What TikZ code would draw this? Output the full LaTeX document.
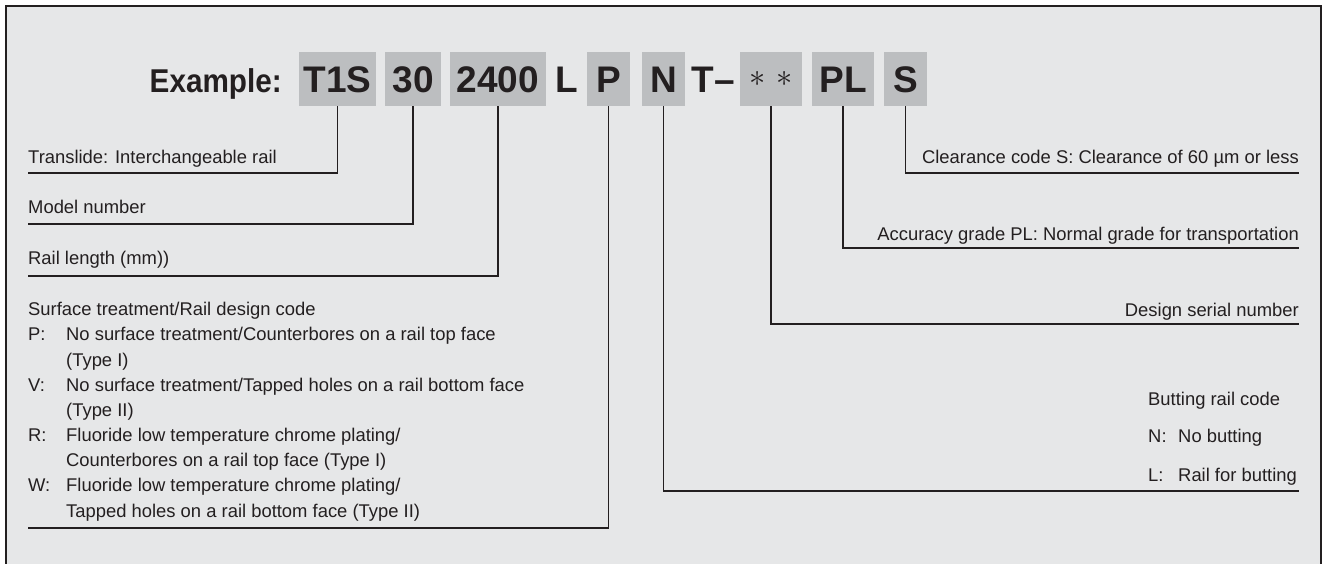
\documentclass[tikz,border=0pt]{standalone}
\usepackage{fontspec}
\setmainfont{Liberation Sans}
\newfontfamily\exfont[FakeStretch=0.9]{Liberation Sans}
\definecolor{bg}{HTML}{E6E7E8}
\definecolor{boxgray}{HTML}{BCBEC0}
\definecolor{ink}{HTML}{231F20}
\tikzset{
  lbl/.style={anchor=base west, inner sep=0pt, text=ink, font=\fontsize{18.4}{22}\selectfont},
  rlbl/.style={anchor=base east, inner sep=0pt, text=ink, font=\fontsize{18.4}{22}\selectfont},
  codebox/.style={fill=boxgray, inner sep=0pt, minimum height=54pt, text height=26.5pt, text depth=0pt, text=ink, font=\fontsize{37}{40}\selectfont\bfseries},
  codetext/.style={inner sep=0pt, text height=26.5pt, text depth=0pt, text=ink, font=\fontsize{37}{40}\selectfont\bfseries},
  conn/.style={draw=ink, line width=1.3pt},
  frame/.style={draw=ink, line width=1.7pt, fill=bg}
}
\begin{document}
\begin{tikzpicture}[x=1pt,y=-1pt]
\useasboundingbox (0,0) rectangle (1324,563);
\fill[white] (0,0) rectangle (1324,563);
\draw[frame] (6,6) rectangle (1321,620);

% title row
\node[anchor=base east, inner sep=0pt, text=ink, font=\fontsize{33}{36}\selectfont\exfont\bfseries] (ex) at (282,92) {Example:};
\node[codebox, minimum width=77pt] (t1s) at (337.5,79) {T1S};
\node[codebox, minimum width=56pt] (m30) at (413,79) {30};
\node[codebox, minimum width=96pt] (len) at (498,79) {2400};
\node[codetext] (lt) at (566.5,79) {L};
\node[codebox, minimum width=43pt] (pc) at (608.5,79) {P};
\node[codebox, minimum width=43pt] (nc) at (663.5,79) {N};
\node[codetext] (tdash) at (713,79) {T--};
\node[codebox, minimum width=62pt] (ast) at (771,79) {};
\node[inner sep=0pt, text=ink, scale=1.3] (astt) at (ast.center) {\fontsize{24.88}{26}\selectfont$\ast\hspace{8.4pt}\ast$};
\node[codebox, minimum width=62pt] (plc) at (843,79) {PL};
\node[codebox, minimum width=43pt] (sc) at (905.5,79) {S};

% left labels
\node[lbl] (l1) at (28,163) {Translide: Interchangeable rail};
\node[lbl] (l2) at (28,213) {Model number};
\node[lbl] (l3) at (28,264) {Rail length (mm))};
\node[lbl] (s0) at (28,315) {Surface treatment/Rail design code};
\node[lbl] (s1k) at (28,340) {P:};
\node[lbl] (s1) at (66,340) {No surface treatment/Counterbores on a rail top face};
\node[lbl] (s1b) at (66,366) {(Type I)};
\node[lbl] (s2k) at (28,391) {V:};
\node[lbl] (s2) at (66,391) {No surface treatment/Tapped holes on a rail bottom face};
\node[lbl] (s2b) at (66,416) {(Type II)};
\node[lbl] (s3k) at (28,441) {R:};
\node[lbl] (s3) at (66,441) {Fluoride low temperature chrome plating/};
\node[lbl] (s3b) at (66,466) {Counterbores on a rail top face (Type I)};
\node[lbl] (s4k) at (28,491) {W:};
\node[lbl] (s4) at (66,491) {Fluoride low temperature chrome plating/};
\node[lbl] (s4b) at (66,517) {Tapped holes on a rail bottom face (Type II)};

% right labels
\node[rlbl] (r1) at (1299,163) {Clearance code S: Clearance of 60 µm or less};
\node[rlbl] (r2) at (1299,240) {Accuracy grade PL: Normal grade for transportation};
\node[rlbl] (r3) at (1299,316) {Design serial number};
\node[lbl] (b0) at (1148,405) {Butting rail code};
\node[lbl] (b1k) at (1148,442) {N:};
\node[lbl] (b1) at (1178,442) {No butting};
\node[lbl] (b2k) at (1148,481) {L:};
\node[lbl] (b2) at (1178,481) {Rail for butting};

% connector ends
\coordinate (e1) at (28,173);
\coordinate (e2) at (28,224);
\coordinate (e3) at (28,276);
\coordinate (e4) at (28,528);
\coordinate (e5) at (1299,491);
\coordinate (e6) at (1299,324);
\coordinate (e7) at (1299,248);
\coordinate (e8) at (1299,173);

\draw[conn] (t1s.south) |- (e1);
\draw[conn] (m30.south) |- (e2);
\draw[conn] (len.south) |- (e3);
\draw[conn] (pc.south) |- (e4);
\draw[conn] (nc.south) |- (e5);
\draw[conn] (ast.south) |- (e6);
\draw[conn] (plc.south) |- (e7);
\draw[conn] (sc.south) |- (e8);
\end{tikzpicture}
\end{document}
